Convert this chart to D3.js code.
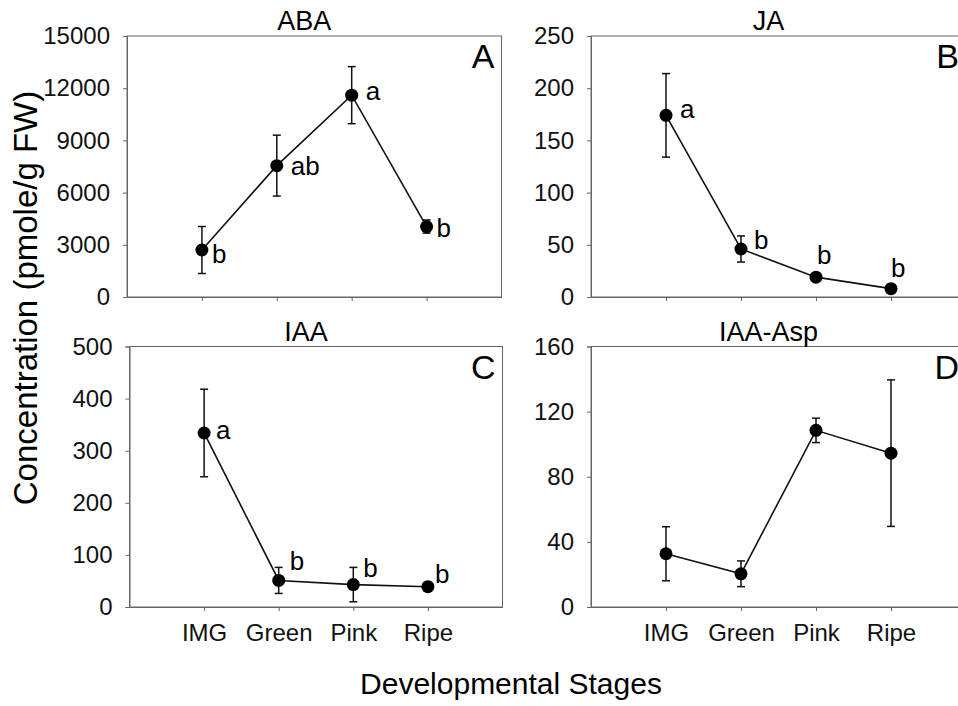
<!DOCTYPE html>
<html>
<head>
<meta charset="utf-8">
<script src="https://cdn.jsdelivr.net/npm/d3@7"></script>
<style>
  body { margin: 0; background: #fff; }
  svg { font-family: "Liberation Sans", Arial, sans-serif; }
</style>
</head>
<body>
<div id="Chart"></div>
<script>
// data
var stages = ["IMG", "Green", "Pink", "Ripe"];

var abaMean = [2700, 7550, 11600, 4050];
var abaErr = [1350, 1750, 1640, 380];
var abaLetters = ["b", "ab", "a", "b"];
var abaTicks = [0, 3000, 6000, 9000, 12000, 15000];

var jaMean = [174, 46, 19, 8];
var jaErr = [40, 12.5, 1, 1];
var jaLetters = ["a", "b", "b", "b"];
var jaTicks = [0, 50, 100, 150, 200, 250];

var iaaMean = [334, 51, 43, 39];
var iaaErr = [84, 25, 33, 3];
var iaaLetters = ["a", "b", "b", "b"];
var iaaTicks = [0, 100, 200, 300, 400, 500];

var aspMean = [32.7, 20.4, 108.5, 94.5];
var aspErr = [16.6, 7.9, 7.5, 45];
var aspLetters = ["", "", "", ""];
var aspTicks = [0, 40, 80, 120, 160];

// where each letter sits relative to its point [dx, dy]
var letterPosA = [[10, 13], [14, 9], [14, 5], [10, 10]];
var letterPosB = [[14, 3], [13, 0], [1, -13], [0, -12]];
var letterPosC = [[12, 6], [11, -10], [10, -8], [7, -4]];
var letterPosD = [[0, 0], [0, 0], [0, 0], [0, 0]];

var svg = d3.select("#Chart").append("svg")
    .attr("width", 958)
    .attr("height", 706);

var axisColor = "#666";

function drawPanel(p) {
    var x = d3.scaleLinear().domain([0, 5]).range([p.left, p.right]);
    var y = d3.scaleLinear().domain([0, p.ticks[p.ticks.length - 1]]).range([p.bottom, p.top]);

    var g = svg.append("g");

    //frame
    g.append("rect")
        .attr("x", p.left).attr("y", p.top)
        .attr("width", p.right - p.left).attr("height", p.bottom - p.top)
        .attr("fill", "none").attr("stroke", axisColor).attr("stroke-width", 1);

    //y axis
    var yAxis = d3.axisLeft(y).tickValues(p.ticks).tickSize(4).tickPadding(13)
        .tickFormat(d3.format("d"));
    var ya = g.append("g").attr("transform", "translate(" + p.left + ",0)").call(yAxis);
    ya.select(".domain").attr("stroke", axisColor);
    ya.selectAll(".tick line").attr("stroke", axisColor);
    ya.selectAll("text").attr("font-size", "24px").attr("fill", "#111")
        .attr("font-family", "'Liberation Sans', Arial, sans-serif");

    //x axis
    var xAxis = d3.axisBottom(x).tickValues([1, 2, 3, 4])
        .tickSize(4).tickSizeOuter(0).tickPadding(13)
        .tickFormat(function (d) { return p.showX ? stages[d - 1] : ""; });
    var xa = g.append("g").attr("transform", "translate(0," + p.bottom + ")").call(xAxis);
    xa.select(".domain").attr("stroke", axisColor);
    xa.selectAll(".tick line").attr("stroke", axisColor);
    xa.selectAll("text").attr("font-size", "24px").attr("fill", "#111")
        .attr("font-family", "'Liberation Sans', Arial, sans-serif");

    var pts = p.mean.map(function (m, i) {
        return { i: i + 1, mean: m, err: p.err[i], letter: p.letters[i], pos: p.letterPos[i] };
    });

    //error bars
    var eb = g.append("g").selectAll("g").data(pts).enter().append("g");
    eb.append("line")
        .attr("x1", function (d) { return x(d.i); })
        .attr("x2", function (d) { return x(d.i); })
        .attr("y1", function (d) { return y(d.mean - d.err); })
        .attr("y2", function (d) { return y(d.mean + d.err); })
        .attr("stroke", "#111").attr("stroke-width", 1.5);
    [-1, 1].forEach(function (s) {
        eb.append("line")
            .attr("x1", function (d) { return x(d.i) - 4; })
            .attr("x2", function (d) { return x(d.i) + 4; })
            .attr("y1", function (d) { return y(d.mean + s * d.err); })
            .attr("y2", function (d) { return y(d.mean + s * d.err); })
            .attr("stroke", "#111").attr("stroke-width", 1.5);
    });

    //connecting line
    var line = d3.line()
        .x(function (d) { return x(d.i); })
        .y(function (d) { return y(d.mean); });
    g.append("path").datum(pts)
        .attr("d", line)
        .attr("fill", "none").attr("stroke", "#111").attr("stroke-width", 1.6);

    //points
    g.selectAll(".pt").data(pts).enter().append("circle")
        .attr("class", "pt")
        .attr("cx", function (d) { return x(d.i); })
        .attr("cy", function (d) { return y(d.mean); })
        .attr("r", 6.5)
        .attr("fill", "#000");

    //significance letters
    g.selectAll(".sig").data(pts).enter().append("text")
        .attr("class", "sig")
        .attr("x", function (d) { return x(d.i) + d.pos[0]; })
        .attr("y", function (d) { return y(d.mean) + d.pos[1]; })
        .attr("font-size", "26px")
        .attr("fill", "#000")
        .text(function (d) { return d.letter; });

    //title
    g.append("text")
        .attr("x", (p.left + p.right) / 2 - 10)
        .attr("y", p.top - 6)
        .attr("text-anchor", "middle")
        .attr("font-size", "27px")
        .text(p.title);

    //panel letter
    g.append("text")
        .attr("x", p.right - 7)
        .attr("y", p.top + 32)
        .attr("text-anchor", "end")
        .attr("font-size", "34px")
        .text(p.tag);
}

drawPanel({ title: "ABA", tag: "A", mean: abaMean, err: abaErr, letters: abaLetters, letterPos: letterPosA,
    ticks: abaTicks, left: 127, right: 501.5, top: 36, bottom: 297, showX: false });
drawPanel({ title: "JA", tag: "B", mean: jaMean, err: jaErr, letters: jaLetters, letterPos: letterPosB,
    ticks: jaTicks, left: 591, right: 966, top: 36, bottom: 297, showX: false });
drawPanel({ title: "IAA", tag: "C", mean: iaaMean, err: iaaErr, letters: iaaLetters, letterPos: letterPosC,
    ticks: iaaTicks, left: 129.5, right: 502.5, top: 346.5, bottom: 607, showX: true });
drawPanel({ title: "IAA-Asp", tag: "D", mean: aspMean, err: aspErr, letters: aspLetters, letterPos: letterPosD,
    ticks: aspTicks, left: 591, right: 966, top: 346.5, bottom: 607, showX: true });

//shared axis titles
svg.append("text")
    .attr("transform", "translate(37,298) rotate(-90)")
    .attr("text-anchor", "middle")
    .attr("font-size", "33px")
    .text("Concentration (pmole/g FW)");

svg.append("text")
    .attr("x", 511)
    .attr("y", 694)
    .attr("text-anchor", "middle")
    .attr("font-size", "30px")
    .text("Developmental Stages");
</script>
</body>
</html>
